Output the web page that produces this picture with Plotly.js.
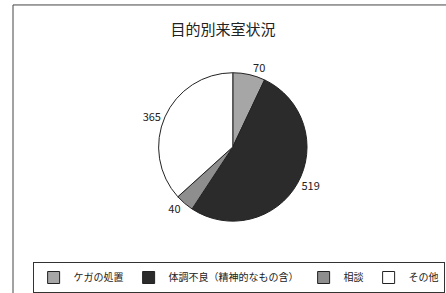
<!DOCTYPE html>
<html><head><meta charset="utf-8">
<script src="https://cdn.plot.ly/plotly-3.0.1.min.js"></script>
<style>html,body{margin:0;padding:0;background:#fff}#c{width:446px;height:293px}</style>
</head><body><div id="c"></div>
<script>
const categories = ["ケガの処置", "体調不良（精神的なもの含）", "相談", "その他"];
const values = [70, 519, 40, 365];
const colors = ["#a6a6a6", "#2b2b2b", "#8e8e8e", "#ffffff"];

const font = "'Noto Sans CJK JP', 'Noto Sans', sans-serif";
const data = [{
  type: "pie",
  labels: categories,
  values: values,
  sort: false,
  direction: "clockwise",
  rotation: 0,
  marker: {colors: colors, line: {color: "#222", width: 1}},
  textinfo: "value",
  textposition: "outside",
  textfont: {family: font, size: 11, color: "#222"},
  hole: 0,
  domain: {x: [0.044, 1], y: [0.24, 0.75]}
}];
const layout = {
  width: 446, height: 293,
  margin: {l: 0, r: 0, t: 0, b: 0},
  paper_bgcolor: "#fff",
  title: {text: "目的別来室状況", x: 0.5, xanchor: "center", y: 0.9, yanchor: "middle",
          font: {family: font, size: 15, color: "#222"}},
  showlegend: true,
  legend: {orientation: "h", x: 0.535, xanchor: "center", y: 0.045, yanchor: "middle",
           bordercolor: "#333", borderwidth: 1, font: {family: font, size: 10, color: "#222"},
           itemwidth: 30, tracegroupgap: 0},
  shapes: [{type: "rect", xref: "paper", yref: "paper", x0: 13/446, x1: 1.02, y0: -0.05, y1: 1 - 5/293,
            line: {color: "#444", width: 1}}]
};
Plotly.newPlot("c", data, layout, {displayModeBar: false, staticPlot: true});
</script></body></html>
